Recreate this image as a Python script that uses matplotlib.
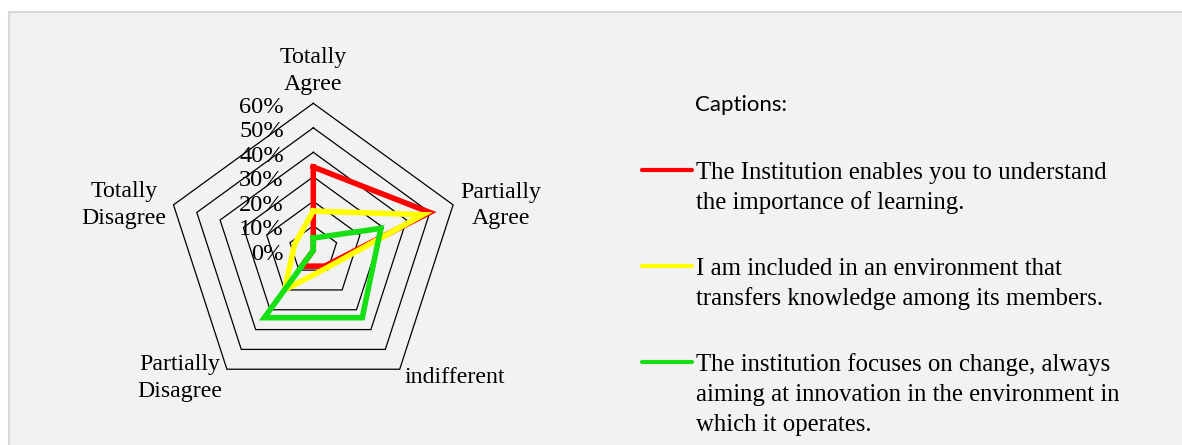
import matplotlib
matplotlib.use("Agg")
import matplotlib.pyplot as plt
import numpy as np
from matplotlib.patches import Rectangle
from matplotlib.lines import Line2D
import matplotlib.transforms as mtransforms

# ---------------- data ----------------
categories = ["Totally\nAgree", "Partially\nAgree", "indifferent",
              "Partially\nDisagree", "Totally\nDisagree"]
ring_values = [0, 10, 20, 30, 40, 50, 60]
ring_labels = ["0%", "10%", "20%", "30%", "40%", "50%", "60%"]

series_labels = [
    "The Institution enables you to understand\nthe importance of learning.",
    "I am included in an environment that\ntransfers knowledge among its members.",
    "The institution focuses on change, always\naiming at innovation in the environment in\nwhich it operates.",
]
red_values = [34, 50, 8, 8, 0]
yellow_values = [16, 47, 9, 20, 8]
green_values = [5, 29, 34, 34, 0]
series_values = [red_values, yellow_values, green_values]
series_colors = ["#FF0000", "#FFFF00", "#14E014"]

legend_title = "Captions:"

# ---------------- figure ----------------
W, H = 1182, 445
fig = plt.figure(figsize=(W / 100, H / 100), dpi=100)
fig.patch.set_facecolor("white")
fig.add_artist(Rectangle((8.5 / W, -0.1), 1.2, 1.1 - 11.5 / H,
                         transform=fig.transFigure, facecolor="#F2F2F2",
                         edgecolor="#D9D9D9", lw=1.5, zorder=0))


def fx(x):
    return x / W


def fy(y):
    return 1 - y / H


serif = "Liberation Serif"


def multiline(x, y0, text, spacing, **kw):
    """Place each line of a label at its own baseline (pixel coords)."""
    for i, line in enumerate(text.split("\n")):
        fig.text(fx(x), fy(y0 + i * spacing), line, va="baseline", **kw)


# radar axes
cx, cy, R = 313.3, 250.3, 147.0
ax = fig.add_axes([(cx - R) / W, (H - cy - R) / H, 2 * R / W, 2 * R / H],
                  projection="polar")
ax.set_theta_zero_location("N")
ax.set_theta_direction(-1)
ax.set_ylim(0, ring_values[-1])
ax.axis("off")

n = len(categories)
angles = np.linspace(0, 2 * np.pi, n, endpoint=False)
closed = np.append(angles, angles[0])

# pentagon grid rings
for v in ring_values[1:]:
    ax.plot(closed, [v] * (n + 1), color="black", lw=0.9, zorder=1,
            clip_on=False, solid_joinstyle="miter")

# data series
for vals, c in zip(series_values, series_colors):
    ax.plot(closed, list(vals) + [vals[0]], color=c, lw=4.0, zorder=3,
            clip_on=False, solid_joinstyle="miter")

# ring labels
trans = mtransforms.offset_copy(ax.transData, fig=fig, x=-29.5, y=-9.6,
                                units="dots")
for v, lab in zip(ring_values, ring_labels):
    ax.text(0, v, lab, transform=trans, ha="right", va="baseline",
            fontsize=17.6, family=serif, clip_on=False, zorder=2)

# category labels
cat_pos = [(313.5, 63.3), (501.0, 197.7), (455.0, 383.3),
           (180.0, 370.0), (124.2, 197.3)]
for lab, (x, y) in zip(categories, cat_pos):
    multiline(x, y, lab, 26.8, ha="center", fontsize=17.2, family=serif)

# legend (captions)
fig.text(fx(695), fy(110.7), legend_title, ha="left", va="baseline",
         fontsize=16, family="Lato")
leg_y = [170, 266, 362]
for lab, c, y in zip(series_labels, series_colors, leg_y):
    fig.add_artist(Line2D([fx(641.5), fx(691.5)], [fy(y), fy(y)],
                          transform=fig.transFigure, color=c, lw=3.0,
                          solid_capstyle="round"))
    multiline(696, y + 9, lab, 30.0, ha="left", fontsize=17.8, family=serif)

fig.savefig("out.png", dpi=100)
